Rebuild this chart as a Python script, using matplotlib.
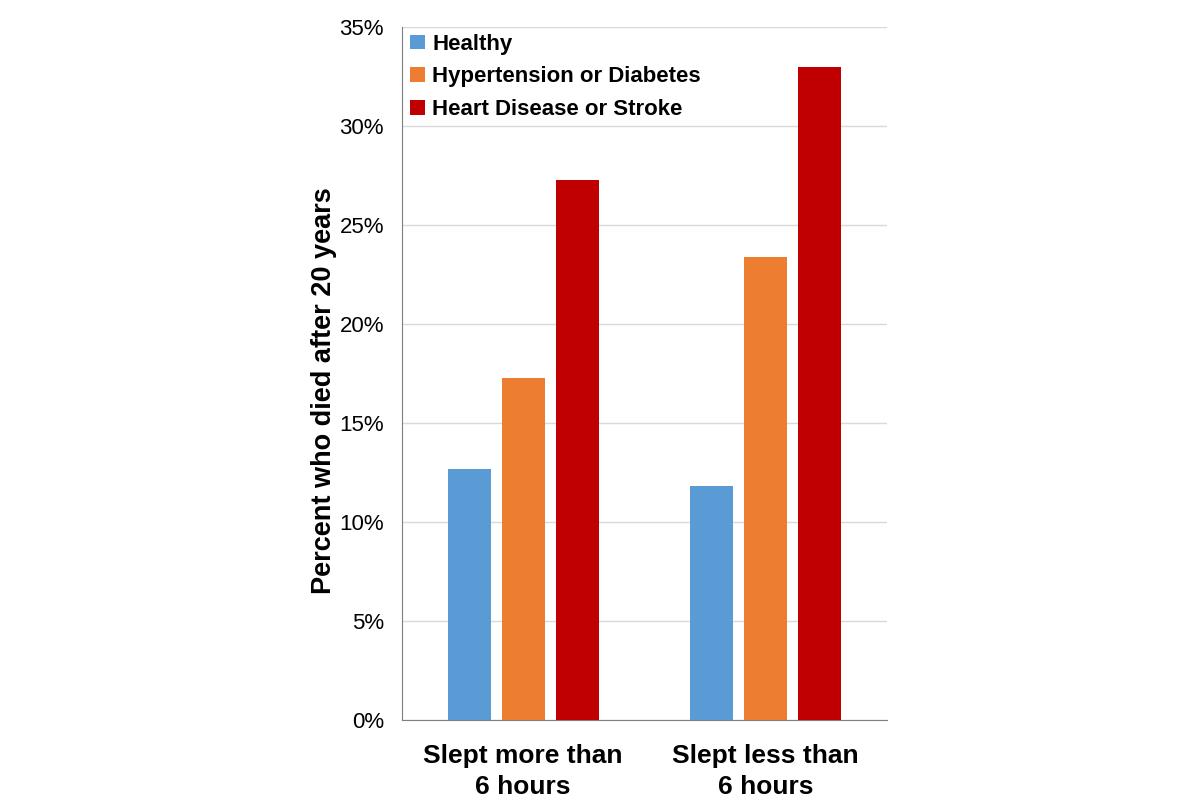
import numpy as np
import matplotlib
matplotlib.use("Agg")
import matplotlib.pyplot as plt
from matplotlib.ticker import PercentFormatter

plt.rcParams['font.family'] = ['Liberation Sans', 'DejaVu Sans']

# Dados
grupos = ["Slept more than\n6 hours", "Slept less than\n6 hours"]
series = ["Healthy", "Hypertension or Diabetes", "Heart Disease or Stroke"]
healthy = [12.7, 11.8]
hyper_diab = [17.3, 23.4]
heart_stroke = [27.3, 33.0]
cores = ["#5b9bd5", "#ed7d31", "#c00000"]

valores = [healthy, hyper_diab, heart_stroke]
x = np.arange(len(grupos))
largura = 0.177
passo = 0.223

fig = plt.figure(figsize=(12, 8), dpi=100)
ax = fig.add_axes([0.335, 0.1, 0.404, 0.866])

for i, (nome, vals) in enumerate(zip(series, valores)):
    ax.bar(x + (i - 1) * passo, vals, largura, color=cores[i], label=nome, zorder=3)

ax.set_xlim(-0.5, 1.5)
ax.set_ylim(0, 35)
ax.set_yticks(np.arange(0, 36, 5))
ax.yaxis.set_major_formatter(PercentFormatter(decimals=0))
ax.grid(axis='y', color='#d9d9d9', linewidth=1, zorder=0)
ax.set_xticks(x)
ax.set_xticklabels(grupos, fontsize=19, fontweight='bold', linespacing=1.4)
ax.tick_params(axis='y', labelsize=16, length=0, pad=13)
ax.tick_params(axis='x', length=0, pad=17)
ax.set_ylabel("Percent who died after 20 years", fontsize=19.5, fontweight='bold')
ax.yaxis.set_label_coords(-0.135, 0.476)

for s in ['top', 'right']:
    ax.spines[s].set_visible(False)
ax.spines['left'].set_color('#7f7f7f')
ax.spines['bottom'].set_color('#7f7f7f')

leg = ax.legend(loc='upper left', frameon=False, prop={'weight': 'bold', 'size': 16},
                handlelength=0.65, handleheight=0.65, handletextpad=0.35, labelspacing=0.52,
                borderaxespad=0.0, borderpad=0.3, bbox_to_anchor=(0.003, 1.0))

fig.savefig("out.png", dpi=100)
